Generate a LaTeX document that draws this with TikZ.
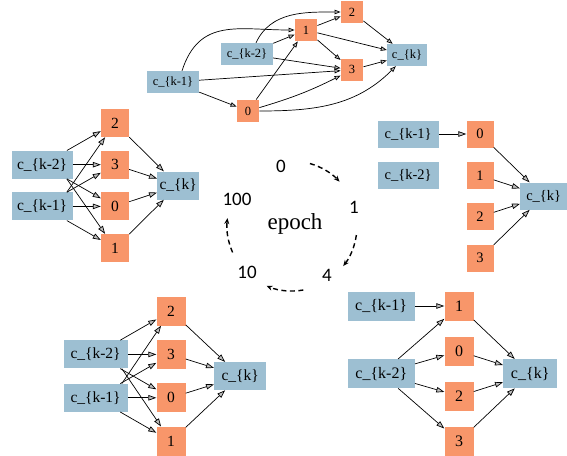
\documentclass[tikz,border=0pt]{standalone}
\usepackage{fontspec}
\setmainfont{Liberation Serif}
\newfontfamily\stepfont{Carlito}
\usepackage{xcolor}
\usepackage{tikz}
\usetikzlibrary{positioning}
\usetikzlibrary{arrows.meta}
\usetikzlibrary{calc}

\definecolor{varblue}{HTML}{9DBFD2}
\definecolor{opsalmon}{HTML}{F8966A}

\tikzset{
  var/.style={fill=varblue, inner sep=0pt},
  cur/.style={fill=varblue, inner sep=0pt},
  op/.style={fill=opsalmon, inner sep=0pt},
  link/.style={-{Triangle[length=8pt, width=5.5pt, fill=black!25]}, line width=.7pt},
  cyc/.style={-{Stealth[length=6pt, width=5pt]}, line width=1.4pt, dash pattern=on 5pt off 3.5pt},
  stepno/.style={font=\stepfont\fontsize{19}{19}\selectfont}
}

\begin{document}
\begin{tikzpicture}[x=1pt, y=1pt]
\useasboundingbox (0,0) rectangle (567,-455);
% top graph
\begin{scope}[font=\fontsize{12.5}{13}\selectfont,
  var/.append style={minimum width=52pt, minimum height=22pt},
  cur/.append style={minimum width=40pt, minimum height=22pt},
  op/.append style={minimum size=22.5pt},
  link/.append style={-{Triangle[length=6pt, width=4.5pt, fill=black!25]}}]
\node[var] (tk1) at (173,-82) {c\_\{k-1\}};
\node[var] (tk2) at (247,-54) {c\_\{k-2\}};
\node[op] (t1) at (306,-30) {1};
\node[op] (t2) at (352,-12) {2};
\node[op, below=35pt of t2] (t3) {3};
\node[op] (t0) at (248,-111) {0};
\node[cur] (tck) at (407,-55) {c\_\{k\}};
% arrows
\draw[link] ([xshift=9pt]tk1.north) to[out=72, in=180, looseness=1.2] (t1.west);
\draw[link] (tk1) -- (t3);
\draw[link] (tk1) -- (t0);
\draw[link] (tk2) -- (t1);
\draw[link] ([xshift=9pt]tk2.north) to[out=65, in=180] (t2.west);
\draw[link] (tk2) -- (t3);
\draw[link] (t0) -- (t1);
\draw[link] (t0) to[bend right=5] (t3);
\draw[link] (t0.east) to[out=0, in=225] (tck);
\draw[link] (t1) -- (t2);
\draw[link] (t1) -- (t3);
\draw[link] (t1) -- (tck);
\draw[link] (t2) -- (tck);
\draw[link] (t3) -- (tck);
\end{scope}
% left graph
\begin{scope}[font=\fontsize{15.5}{16}\selectfont,
  var/.append style={minimum width=61pt, minimum height=28pt},
  cur/.append style={minimum width=42pt, minimum height=28pt},
  op/.append style={minimum size=28pt}]
\node[op] (l2) at (115,-123) {2};
\node[op, below=13.3pt of l2] (l3) {3};
\node[op, below=13.3pt of l3] (l0) {0};
\node[op, below=13.3pt of l0] (l1) {1};
\node[var, left=28pt of l3] (lk2) {c\_\{k-2\}};
\node[var, left=28pt of l0] (lk1) {c\_\{k-1\}};
\coordinate (lmid) at ($(l3)!.5!(l0)$);
\node[cur, right=42pt of lmid] (lck) {c\_\{k\}};
% arrows
\draw[link] (lk2) -- (l2);
\draw[link] (lk2) -- (l3);
\draw[link] (lk2) -- (l0);
\draw[link] ([xshift=-6pt]lk2.south east) -- (l1);
\draw[link] ([xshift=-6pt]lk1.north east) -- (l2);
\draw[link] (lk1) -- (l3);
\draw[link] (lk1) -- (l0);
\draw[link] (lk1) -- (l1);
\foreach \o in {l2,l3,l0,l1} \draw[link] (\o) -- (lck);
\end{scope}
% right graph
\begin{scope}[font=\fontsize{14.5}{15}\selectfont,
  var/.append style={minimum width=61pt, minimum height=27pt},
  cur/.append style={minimum width=47pt, minimum height=27pt},
  op/.append style={minimum size=27pt}]
\node[op] (r0) at (480,-134) {0};
\node[op, below=14pt of r0] (r1) {1};
\node[op, below=14pt of r1] (r2) {2};
\node[op, below=14pt of r2] (r3) {3};
\node[var, left=27.5pt of r0] (rk1) {c\_\{k-1\}};
\node[var, left=27.5pt of r1] (rk2) {c\_\{k-2\}};
\coordinate (rmid) at ($(r1)!.5!(r2)$);
\node[cur, right=40pt of rmid] (rck) {c\_\{k\}};
% arrows
\draw[link] (rk1) -- (r0);
\foreach \o in {r0,r1,r2,r3} \draw[link] (\o) -- (rck);
\end{scope}
% bottom left graph
\begin{scope}[font=\fontsize{15.5}{16}\selectfont,
  var/.append style={minimum width=64pt, minimum height=28pt},
  cur/.append style={minimum width=52pt, minimum height=28pt},
  op/.append style={minimum size=29pt}]
\node[op] (b2) at (171,-311) {2};
\node[op, below=14pt of b2] (b3) {3};
\node[op, below=14pt of b3] (b0) {0};
\node[op, below=14pt of b0] (b1) {1};
\node[var, left=28.5pt of b3] (bk2) {c\_\{k-2\}};
\node[var, left=28.5pt of b0] (bk1) {c\_\{k-1\}};
\coordinate (bmid) at ($(b3)!.5!(b0)$);
\node[cur, right=43pt of bmid] (bck) {c\_\{k\}};
% arrows
\draw[link] (bk2) -- (b2);
\draw[link] (bk2) -- (b3);
\draw[link] (bk2) -- (b0);
\draw[link] ([xshift=-6pt]bk2.south east) -- (b1);
\draw[link] ([xshift=-6pt]bk1.north east) -- (b2);
\draw[link] (bk1) -- (b3);
\draw[link] (bk1) -- (b0);
\draw[link] (bk1) -- (b1);
\foreach \o in {b2,b3,b0,b1} \draw[link] (\o) -- (bck);
\end{scope}
% bottom right graph
\begin{scope}[font=\fontsize{16}{17}\selectfont,
  var/.append style={minimum width=67pt, minimum height=29pt},
  cur/.append style={minimum width=54pt, minimum height=29pt},
  op/.append style={minimum size=29pt}]
\node[op] (d1) at (459,-306) {1};
\node[op, below=15.7pt of d1] (d0) {0};
\node[op, below=15.7pt of d0] (d2) {2};
\node[op, below=15.7pt of d2] (d3) {3};
\coordinate (dmid) at ($(d0)!.5!(d2)$);
\node[var, left=29.5pt of d1] (dk1) {c\_\{k-1\}};
\node[var, left=44pt of dmid] (dk2) {c\_\{k-2\}};
\node[cur, right=44pt of dmid] (dck) {c\_\{k\}};
% arrows
\draw[link] (dk1) -- (d1);
\foreach \o in {d1,d0,d2,d3} \draw[link] (dk2) -- (\o);
\foreach \o in {d1,d0,d2,d3} \draw[link] (\o) -- (dck);
\end{scope}
% epoch cycle
\coordinate (hub) at (292,-226);
\node[font=\fontsize{23}{24}\selectfont] (epoch) at (295,-224) {epoch};
\node[stepno] (e0) at (281,-166) {0};
\node[stepno] (e1) at (354,-207) {1};
\node[stepno] (e4) at (327,-275) {4};
\node[stepno] (e10) at (247,-272) {10};
\node[stepno] (e100) at (237,-199) {100};
\draw[cyc] ([shift={(74:65pt)}]hub) arc[start angle=74, end angle=43, radius=65pt];
\draw[cyc] ([shift={(-8:65pt)}]hub) arc[start angle=-8, end angle=-38, radius=65pt];
\draw[cyc] ([shift={(-80:65pt)}]hub) arc[start angle=-80, end angle=-113, radius=65pt];
\draw[cyc] ([shift={(204:65pt)}]hub) arc[start angle=204, end angle=173, radius=65pt];
\end{tikzpicture}
\end{document}
